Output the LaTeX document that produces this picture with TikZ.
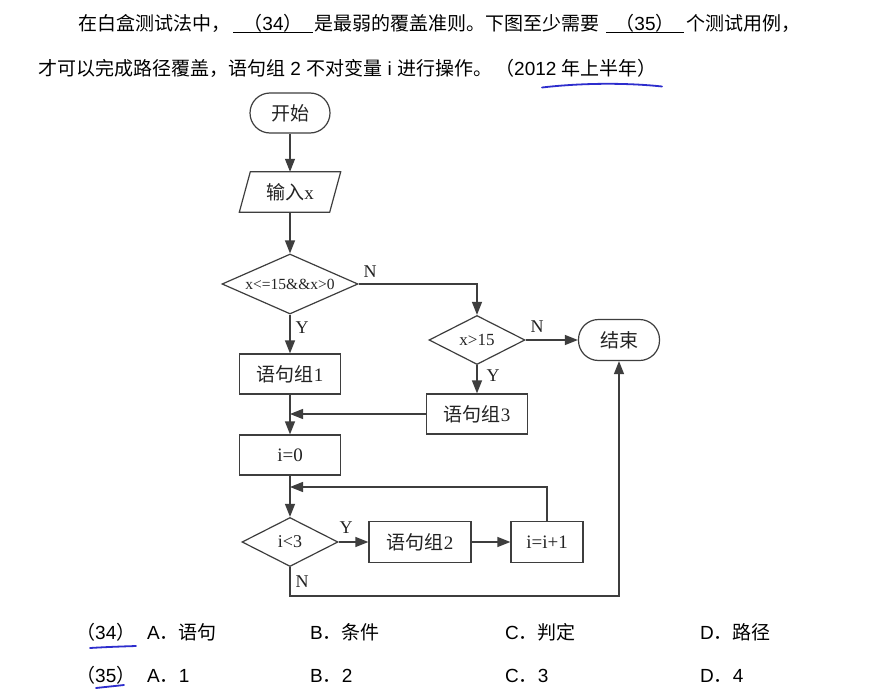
\documentclass[tikz,border=0pt]{standalone}
\usepackage{fontspec}
\setmainfont{Liberation Sans}
\newfontfamily\cjk{Noto Sans CJK SC}
\newfontfamily\ser{Liberation Serif}
\usetikzlibrary{shapes.geometric,arrows.meta}
\definecolor{fc}{RGB}{62,62,62}
\definecolor{ink}{RGB}{35,35,35}
\definecolor{pen}{RGB}{45,45,205}
\tikzset{
  box/.style={draw=fc, line width=1.2pt, rectangle, minimum width=101pt, minimum height=40pt,
              inner sep=0pt, text=ink, font=\ser\fontsize{19}{21}\selectfont},
  term/.style={box, rounded corners=20pt, minimum width=80pt},
  dia/.style={draw=fc, line width=1.2pt, diamond, inner sep=0pt, text=ink},
  arr/.style={draw=fc, line width=1.2pt, -{Triangle[length=13pt,width=10pt]}},
  ln/.style={draw=fc, line width=1.2pt},
  lab/.style={text=ink, font=\ser\fontsize{18}{18}\selectfont, inner sep=0pt},
  hd/.style={anchor=base west, inner sep=0pt, font=\fontsize{19}{23}\selectfont},
  blank/.style={draw=black, line width=1pt},
  penline/.style={draw=pen, line width=1.8pt, line cap=round},
}
\begin{document}
\begin{tikzpicture}[x=1pt,y=-1pt]
\fill[white] (0,0) rectangle (896,693);
\useasboundingbox (0,0) rectangle (896,693);

% ---------- header ----------
\node[hd] (h1) at (78,31) {{\cjk 在白盒测试法中，}};
\node[hd,anchor=base] (h2) at (273,31) {{\cjk （}34{\cjk ）}};
\node[hd] (h3) at (314,31) {{\cjk 是最弱的覆盖准则。下图至少需要}};
\node[hd,anchor=base] (h4) at (645,31) {{\cjk （}35{\cjk ）}};
\node[hd] (h5) at (686,31) {{\cjk 个测试用例，}};
\draw[blank] (233,33) -- (313,33);
\draw[blank] (606,33) -- (684,33);

\node[hd] (h6) at (38,75) {{\cjk 才可以完成路径覆盖，语句组} 2 {\cjk 不对变量} i {\cjk 进行操作。}};
\node[hd] (h7) at (495,75) {{\cjk （}2012 {\cjk 年上半年）}};
\draw[penline] (542,87.5) .. controls (585,82.5) and (630,83) .. (662,86.5);

% ---------- flowchart ----------
\node[term] (start) at (290,113) {{\cjk 开始}};
\node[inner sep=0pt, minimum width=90pt, minimum height=40pt, text=ink,
      font=\ser\fontsize{19}{21}\selectfont] (inp) at (290,192) {{\cjk 输入}x};
\draw[ln] ([xshift=5.5pt]inp.north west) -- ([xshift=5.5pt]inp.north east)
       -- ([xshift=-5.5pt]inp.south east) -- ([xshift=-5.5pt]inp.south west) -- cycle;

\node[dia, aspect=2.27, minimum width=136pt, minimum height=60pt,
      font=\ser\fontsize{15.5}{15.5}\selectfont] (d1) at (290,284) {x<=15\&\&x>0};
\node[dia, aspect=1.96, minimum width=96pt, minimum height=49pt,
      font=\ser\fontsize{17}{17}\selectfont] (d2) at (477,340) {x>15};
\node[term, minimum width=81pt, minimum height=41pt] (end) at (619,340) {{\cjk 结束}};

\node[box] (b1) at (290,374) {{\cjk 语句组}1};
\node[box] (b3) at (477,414) {{\cjk 语句组}3};
\node[box] (b0) at (290,455) {i=0};
\node[dia, aspect=1.96, minimum width=96pt, minimum height=49pt,
      font=\ser\fontsize{18}{18}\selectfont] (d3) at (290,542) {i<3};
\node[box, minimum width=102pt, minimum height=41pt] (b2) at (420,542) {{\cjk 语句组}2};
\node[box, minimum width=72pt, minimum height=41pt] (b4) at (547,542) {i=i+1};

\coordinate (lp) at (290,487);
\coordinate (cb) at (290,596);

\draw[arr] (start) -- (inp);
\draw[arr] (inp.south) -- (d1.north);
\draw[arr] (d1.east) -| (d2.north);
\draw[arr] (d1.south) -- (b1.north);
\draw[arr] (d2.east) -- (end.west);
\draw[arr] (d2.south) -- (b3.north);
\draw[arr] (b1.south) -- (b0.north);
\draw[arr] (b3.west) -- (b3.west -| b1.south);
\draw[arr] (b0.south) -- (d3.north);
\draw[arr] (b4.north) |- (lp);
\draw[arr] (d3.east) -- (b2.west);
\draw[arr] (b2.east) -- (b4.west);
\draw[arr] (d3.south) -- (cb) -| (end.south);

\node[lab] (n1) at (370,272) {N};
\node[lab] (y1) at (302,328) {Y};
\node[lab] (n2) at (537,327) {N};
\node[lab] (y2) at (493,376) {Y};
\node[lab] (y3) at (346,528) {Y};
\node[lab] (n3) at (302,582) {N};

% ---------- options ----------
\node[hd] (q34) at (76,639) {{\cjk （}34{\cjk ）}};
\node[hd] (a34) at (147,639) {A{\cjk ．语句}};
\node[hd] (b34) at (310,639) {B{\cjk ．条件}};
\node[hd] (c34) at (505,639) {C{\cjk ．判定}};
\node[hd] (d34) at (700,639) {D{\cjk ．路径}};
\draw[penline] (90,648) .. controls (106,647) and (121,646.5) .. (136,646);

\node[hd] (q35) at (76,682) {{\cjk （}35{\cjk ）}};
\node[hd] (a35) at (147,682) {A{\cjk ．}1};
\node[hd] (b35) at (310,682) {B{\cjk ．}2};
\node[hd] (c35) at (505,682) {C{\cjk ．}3};
\node[hd] (d35) at (700,682) {D{\cjk ．}4};
\draw[penline] (96,688) .. controls (105,687) and (115,686) .. (124,685);
\end{tikzpicture}
\end{document}
